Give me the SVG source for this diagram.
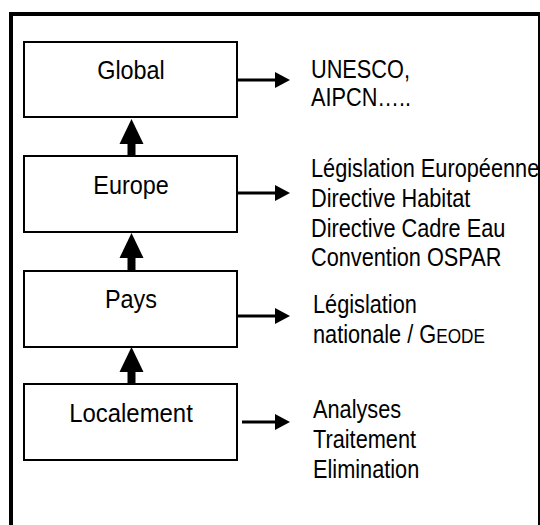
<svg xmlns="http://www.w3.org/2000/svg" width="540" height="525" viewBox="0 0 540 525">
<style>
.box{fill:#fff;stroke:#000;stroke-width:2}
.bt{font-family:"Liberation Sans",Arial,sans-serif;font-size:26px;fill:#000;text-anchor:middle}
.rt{font-family:"Liberation Sans",Arial,sans-serif;font-size:26.5px;fill:#000}
.hl{stroke:#000;stroke-width:3;fill:none}
.vl{stroke:#000;stroke-width:8;fill:none}
.frame{stroke:#000;fill:none}
</style>
<defs>
<marker id="ah" markerUnits="userSpaceOnUse" markerWidth="16" markerHeight="18" refX="0" refY="9" orient="auto" overflow="visible">
<path d="M0,1 L15,9 L0,17 z" fill="#000"/>
</marker>
<marker id="av" markerUnits="userSpaceOnUse" markerWidth="26" markerHeight="24" refX="0" refY="12" orient="auto" overflow="visible">
<path d="M0,0 L25,12 L0,24 z" fill="#000"/>
</marker>
</defs>
<rect width="540" height="525" fill="#fff"/>
<g id="frame">
<line class="frame" x1="9" y1="14" x2="540" y2="14" stroke-width="4"/>
<line class="frame" x1="11" y1="12" x2="11" y2="525" stroke-width="4"/>
<line class="frame" x1="539" y1="14" x2="539" y2="525" stroke-width="2"/>
</g>
<g id="connectors">
<path class="vl" d="M131.5,156 V144" marker-end="url(#av)"/>
<path class="vl" d="M131.5,271 V258" marker-end="url(#av)"/>
<path class="vl" d="M131.5,384 V372" marker-end="url(#av)"/>
<path class="hl" d="M238,80 H275" marker-end="url(#ah)"/>
<path class="hl" d="M238,193 H275" marker-end="url(#ah)"/>
<path class="hl" d="M238,316 H275" marker-end="url(#ah)"/>
<path class="hl" d="M242,422 H275" marker-end="url(#ah)"/>
</g>
<g id="global">
<rect class="box" x="24" y="42" width="213" height="75"/>
<text class="bt" transform="translate(131,0) scale(0.9,1)" x="0" y="79">Global</text>
</g>
<g id="europe">
<rect class="box" x="24" y="156" width="213" height="76"/>
<text class="bt" transform="translate(131,0) scale(0.9,1)" x="0" y="194">Europe</text>
</g>
<g id="pays">
<rect class="box" x="24" y="271" width="213" height="76"/>
<text class="bt" transform="translate(131,0) scale(0.9,1)" x="0" y="308">Pays</text>
</g>
<g id="localement">
<rect class="box" x="24" y="384" width="213" height="76"/>
<text class="bt" transform="translate(131,0) scale(0.92,1)" x="0" y="422">Localement</text>
</g>
<g id="global-info" transform="translate(311,0) scale(0.82,1)">
<text class="rt" x="0" y="78">UNESCO,</text>
<text class="rt" x="0" y="106">AIPCN…..</text>
</g>
<g id="europe-info" transform="translate(311,0) scale(0.82,1)">
<text class="rt" x="0" y="177">Législation Européenne</text>
<text class="rt" x="0" y="207">Directive Habitat</text>
<text class="rt" x="0" y="237">Directive Cadre Eau</text>
<text class="rt" x="0" y="266">Convention OSPAR</text>
</g>
<g id="pays-info" transform="translate(313,0) scale(0.82,1)">
<text class="rt" x="0" y="313">Législation</text>
<text class="rt" x="0" y="343">nationale / G<tspan font-size="21px">EODE</tspan></text>
</g>
<g id="local-info" transform="translate(313,0) scale(0.82,1)">
<text class="rt" x="0" y="418">Analyses</text>
<text class="rt" x="0" y="448">Traitement</text>
<text class="rt" x="0" y="478">Elimination</text>
</g>
</svg>
